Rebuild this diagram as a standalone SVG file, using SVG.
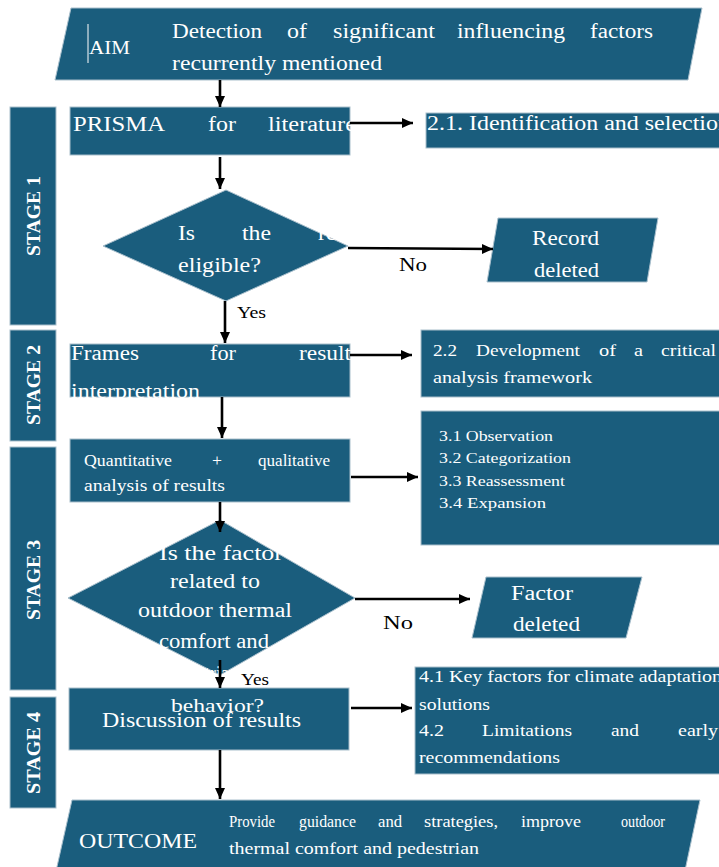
<svg xmlns="http://www.w3.org/2000/svg" width="719" height="867" viewBox="0 0 719 867">
<style>
.n{fill:#1a5d7d;stroke:#a9bfcc;stroke-width:1}
.t{fill:#fff;font-family:"Liberation Serif","Times New Roman",serif}
.k{fill:#000;font-family:"Liberation Serif","Times New Roman",serif}
.s{fill:#fff;font-family:"Liberation Serif","Times New Roman",serif;font-weight:bold;font-size:19px}
.c line{stroke:#000;stroke-width:2.6;marker-end:url(#ah)}
</style>
<defs>
<marker id="ah" markerWidth="12" markerHeight="12" refX="11" refY="6" orient="auto" markerUnits="userSpaceOnUse"><path d="M0,1 L11,6 L0,11 z" fill="#000"/></marker>
</defs>
<rect width="719" height="867" fill="#fff"/>

<g id="stage1"><rect class="n" x="10" y="107" width="46" height="218"/><text class="s" transform="translate(40,216) rotate(-90)" text-anchor="middle" textLength="80" lengthAdjust="spacingAndGlyphs">STAGE 1</text></g>
<g id="stage2"><rect class="n" x="10" y="330" width="46" height="111"/><text class="s" transform="translate(40,385) rotate(-90)" text-anchor="middle" textLength="80" lengthAdjust="spacingAndGlyphs">STAGE 2</text></g>
<g id="stage3"><rect class="n" x="10" y="447" width="46" height="243"/><text class="s" transform="translate(40,580) rotate(-90)" text-anchor="middle" textLength="80" lengthAdjust="spacingAndGlyphs">STAGE 3</text></g>
<g id="stage4"><rect class="n" x="10" y="697" width="46" height="111"/><text class="s" transform="translate(40,753) rotate(-90)" text-anchor="middle" textLength="82" lengthAdjust="spacingAndGlyphs">STAGE 4</text></g>

<g id="aim">
<polygon class="n" points="71,8 702,8 688,80 55,80"/>
<line x1="88" y1="24" x2="88" y2="63" stroke="#fff" stroke-width="1"/>
<text class="t" font-size="19" x="89" y="54" textLength="41" lengthAdjust="spacingAndGlyphs">AIM</text>
<g class="t" font-size="20">
<text x="172" y="38" textLength="90" lengthAdjust="spacingAndGlyphs">Detection</text>
<text x="287" y="38" textLength="20" lengthAdjust="spacingAndGlyphs">of</text>
<text x="333" y="38" textLength="102" lengthAdjust="spacingAndGlyphs">significant</text>
<text x="457" y="38" textLength="108" lengthAdjust="spacingAndGlyphs">influencing</text>
<text x="590" y="38" textLength="63" lengthAdjust="spacingAndGlyphs">factors</text>
<text x="172" y="70" textLength="210" lengthAdjust="spacingAndGlyphs">recurrently mentioned</text>
</g>
</g>

<g id="prisma">
<rect class="n" x="70" y="107" width="280" height="48"/>
<g class="t" font-size="20">
<text x="73" y="131" textLength="92" lengthAdjust="spacingAndGlyphs">PRISMA</text>
<text x="208" y="131" textLength="28" lengthAdjust="spacingAndGlyphs">for</text>
<text x="268" y="131" textLength="88" lengthAdjust="spacingAndGlyphs">literature</text>
</g>
</g>

<g id="identification">
<rect class="n" x="426" y="113" width="300" height="35"/>
<text class="t" font-size="20" x="427" y="130" textLength="303" lengthAdjust="spacingAndGlyphs">2.1. Identification and selection</text>
</g>

<g id="eligible">
<polygon class="n" points="226,190 348,246 226,301 103,246"/>
<g class="t" font-size="20">
<text x="178" y="240" textLength="17" lengthAdjust="spacingAndGlyphs">Is</text>
<text x="242" y="240" textLength="29" lengthAdjust="spacingAndGlyphs">the</text>
<text x="318" y="240" textLength="61" lengthAdjust="spacingAndGlyphs">record</text>
<text x="178" y="272" textLength="83" lengthAdjust="spacingAndGlyphs">eligible?</text>
</g>
</g>

<g id="record-deleted">
<polygon class="n" points="498,218 658,218 647,282 487,282"/>
<g class="t" font-size="20">
<text x="532" y="245" textLength="67" lengthAdjust="spacingAndGlyphs">Record</text>
<text x="534" y="277" textLength="65" lengthAdjust="spacingAndGlyphs">deleted</text>
</g>
</g>

<g id="frames">
<rect class="n" x="70" y="344" width="280" height="53"/>
<g class="t" font-size="20">
<text x="71" y="360" textLength="68" lengthAdjust="spacingAndGlyphs">Frames</text>
<text x="210" y="360" textLength="26" lengthAdjust="spacingAndGlyphs">for</text>
<text x="299" y="360" textLength="52" lengthAdjust="spacingAndGlyphs">result</text>
<text x="71" y="398" textLength="129" lengthAdjust="spacingAndGlyphs">interpretation</text>
</g>
</g>

<g id="framework">
<rect class="n" x="421" y="330" width="305" height="67"/>
<g class="t" font-size="17">
<text x="433" y="356" textLength="24" lengthAdjust="spacingAndGlyphs">2.2</text>
<text x="476" y="356" textLength="104" lengthAdjust="spacingAndGlyphs">Development</text>
<text x="599" y="356" textLength="17" lengthAdjust="spacingAndGlyphs">of</text>
<text x="634" y="356" textLength="9" lengthAdjust="spacingAndGlyphs">a</text>
<text x="661" y="356" textLength="55" lengthAdjust="spacingAndGlyphs">critical</text>
<text x="433" y="383" textLength="159" lengthAdjust="spacingAndGlyphs">analysis framework</text>
</g>
</g>

<g id="quantitative">
<rect class="n" x="70" y="439" width="280" height="63"/>
<g class="t" font-size="16">
<text x="84" y="466" textLength="88" lengthAdjust="spacingAndGlyphs">Quantitative</text>
<text x="212" y="466" textLength="10" lengthAdjust="spacingAndGlyphs">+</text>
<text x="258" y="466" textLength="72" lengthAdjust="spacingAndGlyphs">qualitative</text>
<text x="84" y="491" textLength="141" lengthAdjust="spacingAndGlyphs">analysis of results</text>
</g>
</g>

<g id="steps3">
<rect class="n" x="421" y="411" width="305" height="134"/>
<g class="t" font-size="14">
<text x="439" y="441" textLength="114" lengthAdjust="spacingAndGlyphs">3.1 Observation</text>
<text x="439" y="463" textLength="132" lengthAdjust="spacingAndGlyphs">3.2 Categorization</text>
<text x="439" y="486" textLength="126" lengthAdjust="spacingAndGlyphs">3.3 Reassessment</text>
<text x="439" y="508" textLength="107" lengthAdjust="spacingAndGlyphs">3.4 Expansion</text>
</g>
</g>

<g id="factor-related">
<polygon class="n" points="220,520 355,598 220,675 68,598"/>
<g class="t" font-size="20" text-anchor="middle">
<text x="221" y="560" textLength="124" lengthAdjust="spacingAndGlyphs">Is the factor</text>
<text x="215" y="588" textLength="90" lengthAdjust="spacingAndGlyphs">related to</text>
<text x="215" y="617" textLength="154" lengthAdjust="spacingAndGlyphs">outdoor thermal</text>
<text x="214" y="648" textLength="110" lengthAdjust="spacingAndGlyphs">comfort and</text>
<text x="201" y="680" textLength="74" lengthAdjust="spacingAndGlyphs">pedestrian</text>
</g>
</g>

<g id="factor-deleted">
<polygon class="n" points="486,577 642,577 626,638 472,638"/>
<g class="t" font-size="20">
<text x="511" y="600" textLength="62" lengthAdjust="spacingAndGlyphs">Factor</text>
<text x="513" y="631" textLength="67" lengthAdjust="spacingAndGlyphs">deleted</text>
</g>
</g>

<g id="discussion">
<rect class="n" x="69" y="688" width="280" height="62"/>
<text class="t" font-size="19" x="171" y="712" textLength="93" lengthAdjust="spacingAndGlyphs">behavior?</text>
<text class="t" font-size="20" x="102" y="727" textLength="199" lengthAdjust="spacingAndGlyphs">Discussion of results</text>
</g>

<g id="steps4">
<rect class="n" x="415" y="667" width="310" height="107"/>
<g class="t" font-size="16">
<text x="419" y="682" textLength="303" lengthAdjust="spacingAndGlyphs">4.1 Key factors for climate adaptation</text>
<text x="419" y="710" textLength="71" lengthAdjust="spacingAndGlyphs">solutions</text>
<text x="419" y="736" textLength="25" lengthAdjust="spacingAndGlyphs">4.2</text>
<text x="482" y="736" textLength="90" lengthAdjust="spacingAndGlyphs">Limitations</text>
<text x="611" y="736" textLength="28" lengthAdjust="spacingAndGlyphs">and</text>
<text x="678" y="736" textLength="40" lengthAdjust="spacingAndGlyphs">early</text>
<text x="419" y="763" textLength="141" lengthAdjust="spacingAndGlyphs">recommendations</text>
</g>
</g>

<g id="outcome">
<polygon class="n" points="72,800 700,800 683,880 54,880"/>
<text class="t" font-size="22" x="79" y="848" textLength="118" lengthAdjust="spacingAndGlyphs">OUTCOME</text>
<g class="t" font-size="16">
<text x="229" y="827" textLength="46" lengthAdjust="spacingAndGlyphs">Provide</text>
<text x="299" y="827" textLength="57" lengthAdjust="spacingAndGlyphs">guidance</text>
<text x="378" y="827" textLength="24" lengthAdjust="spacingAndGlyphs">and</text>
<text x="424" y="827" textLength="74" lengthAdjust="spacingAndGlyphs">strategies,</text>
<text x="521" y="827" textLength="60" lengthAdjust="spacingAndGlyphs">improve</text>
<text x="621" y="827" textLength="44" lengthAdjust="spacingAndGlyphs">outdoor</text>
<text x="229" y="854" textLength="250" lengthAdjust="spacingAndGlyphs">thermal comfort and pedestrian</text>
</g>
</g>

<g id="connectors" class="c">
<line x1="220" y1="80" x2="220" y2="107"/>
<line x1="350" y1="123" x2="413" y2="123"/>
<line x1="220" y1="157" x2="220" y2="189"/>
<line x1="348" y1="248" x2="493" y2="249"/>
<line x1="225" y1="301" x2="225" y2="343"/>
<line x1="350" y1="355" x2="412" y2="355"/>
<line x1="222" y1="397" x2="222" y2="438"/>
<line x1="351" y1="477" x2="418" y2="477"/>
<line x1="220" y1="502" x2="220" y2="532"/>
<line x1="355" y1="599" x2="470" y2="599"/>
<line x1="220" y1="660" x2="220" y2="688"/>
<line x1="351" y1="708" x2="412" y2="708"/>
<line x1="220" y1="750" x2="220" y2="799"/>
</g>
<g id="labels" font-size="18">
<text class="k" x="399" y="271" textLength="28" lengthAdjust="spacingAndGlyphs">No</text>
<text class="k" font-size="16" x="237" y="318" textLength="29" lengthAdjust="spacingAndGlyphs">Yes</text>
<text class="k" x="383" y="629" textLength="30" lengthAdjust="spacingAndGlyphs">No</text>
<text class="k" font-size="16" x="241" y="685" textLength="28" lengthAdjust="spacingAndGlyphs">Yes</text>
</g>
</svg>
